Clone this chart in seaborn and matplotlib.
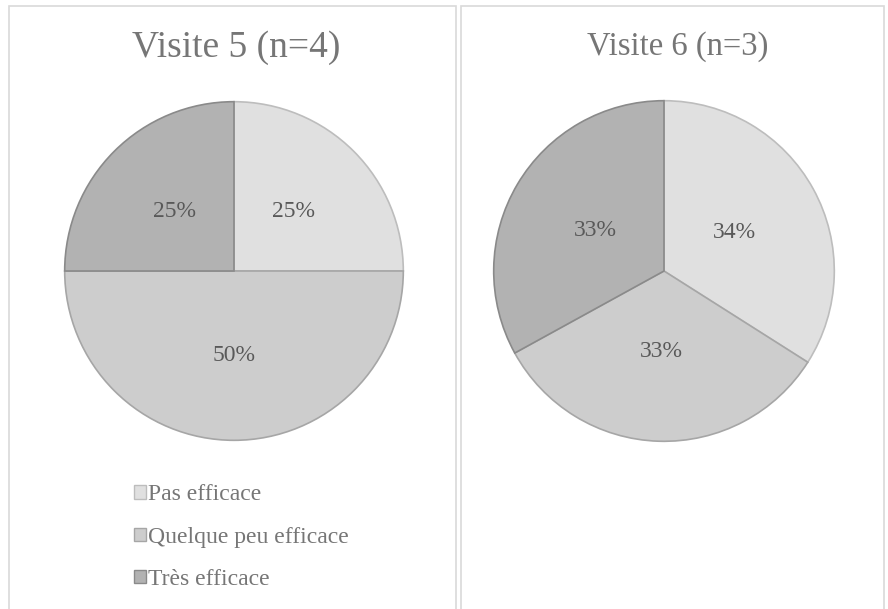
import matplotlib
matplotlib.use("Agg")
import matplotlib.pyplot as plt
import matplotlib.patches as mpatches
import seaborn as sns

sns.set_theme(style="white")
plt.rcParams['font.family'] = ['Liberation Serif', 'DejaVu Serif']

categories = ["Pas efficace", "Quelque peu efficace", "Très efficace"]
visite5_values = [25, 50, 25]
visite6_values = [34, 33, 33]
titles = ["Visite 5 (n=4)", "Visite 6 (n=3)"]

fills = ["#E0E0E0", "#CDCDCD", "#B2B2B2"]
edges = ["#BDBDBD", "#A6A6A6", "#8A8A8A"]
title_color = "#767676"
label_color = "#595959"

W, H = 888, 609
fig = plt.figure(figsize=(W / 100, H / 100), dpi=100)
fig.patch.set_facecolor("white")

# panel borders
for x0, x1 in [(9, 456), (461, 884)]:
    fig.patches.append(mpatches.Rectangle((x0 / W, -0.05), (x1 - x0) / W, 1.05 - 6 / H,
                                          transform=fig.transFigure, fill=False,
                                          edgecolor="#D9D9D9", linewidth=1.2))

def draw_pie(cx, cy, r, values, title, tx, ty, tsize, pdist):
    ax = fig.add_axes([(cx - r) / W, 1 - (cy + r) / H, 2 * r / W, 2 * r / H])
    wedges, texts, autotexts = ax.pie(values, colors=fills, startangle=90, counterclock=False,
                                      autopct=lambda p: f"{p:.0f}%", pctdistance=pdist,
                                      wedgeprops=dict(linewidth=1.2),
                                      textprops=dict(color=label_color, fontsize=17))
    for w, e in zip(wedges, edges):
        w.set_edgecolor(e)
    ax.set_xlim(-1.01, 1.01)
    ax.set_ylim(-1.01, 1.01)
    ax.axis("off")
    fig.text(tx / W, 1 - ty / H, title, ha="center", va="center",
             fontsize=tsize, color=title_color)
    return wedges

draw_pie(234, 271, 171, visite5_values, titles[0], 236, 48, 27, 0.5)
draw_pie(664, 271, 172, visite6_values, titles[1], 678, 47, 23.5, 0.47)

handles = [mpatches.Patch(facecolor=f, edgecolor=e, linewidth=1.0) for f, e in zip(fills, edges)]
leg = fig.legend(handles, categories, loc="upper left", bbox_to_anchor=(125 / W, 1 - 475 / H),
                 frameon=False, fontsize=17, handlelength=0.5, handleheight=0.5,
                 handletextpad=0.08, labelspacing=0.9, borderaxespad=0)
for t in leg.get_texts():
    t.set_color(title_color)

fig.savefig("out.png", dpi=100, facecolor="white")
